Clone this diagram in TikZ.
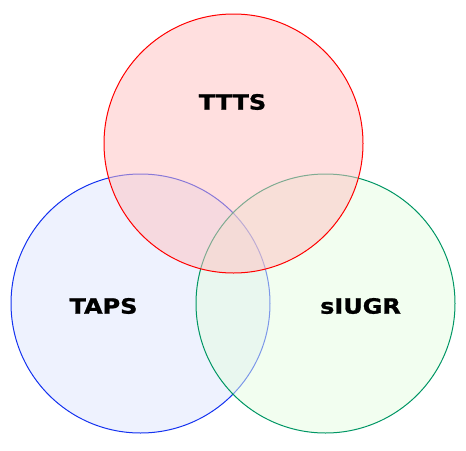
\documentclass[tikz,border=0pt]{standalone}
\usepackage{fontspec}
\setmainfont{DejaVu Sans}
\newfontfamily\labfont{DejaVu Sans Bold}[FakeStretch=1.14,FakeBold=1.2]
\begin{document}
\begin{tikzpicture}[x=1pt,y=-1pt,
  venn/.style={circle,minimum size=259pt,inner sep=0pt,line width=1pt,fill opacity=0.5,draw opacity=1},
  lab/.style={font=\labfont\fontsize{21}{24}\selectfont,text=black}]
\useasboundingbox (0,0) rectangle (466,450);
\node[venn,draw={rgb,255:red,20;green,50;blue,240},fill={rgb,255:red,221;green,229;blue,253}] (taps) at (140.5,303.5) {};
\node[venn,draw={rgb,255:red,0;green,150;blue,100},fill={rgb,255:red,229;green,253;blue,225}] (siugr) at (325.5,303.5) {};
\node[venn,draw={rgb,255:red,255;green,0;blue,0},fill={rgb,255:red,255;green,192;blue,192}] (ttts) at (233.5,143.5) {};
\node[lab] (tttsl) at (232.5,102) {TTTS};
\node[lab] (tapsl) at (103.5,306) {TAPS};
\node[lab] (siugrl) at (360.5,306) {sIUGR};
\end{tikzpicture}
\end{document}
